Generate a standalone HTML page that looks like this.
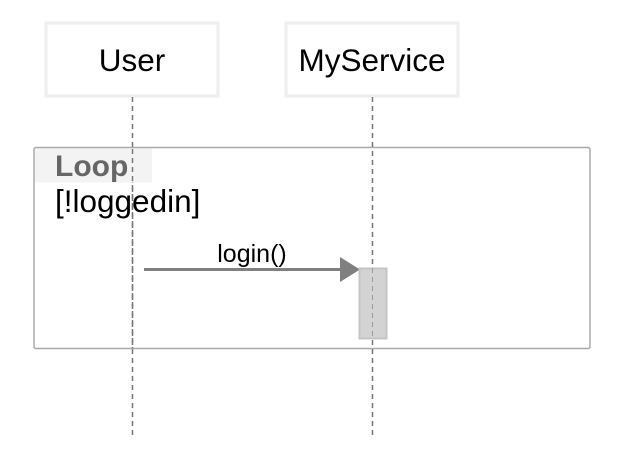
<!DOCTYPE html>
<html><head><style>body{margin:0;background:#fff}</style></head><body>
<svg width="622" height="450" xmlns="http://www.w3.org/2000/svg" font-family="Liberation Sans, Arial, sans-serif">
<rect x="46" y="23" width="172" height="73" fill="#fff" stroke="#eeeeee" stroke-width="3"/>
<text x="132" y="71" font-size="31.5" text-anchor="middle" fill="#000">User</text>
<rect x="286" y="23" width="172" height="73" fill="#fff" stroke="#eeeeee" stroke-width="3"/>
<text x="372" y="71" font-size="31.5" text-anchor="middle" fill="#000">MyService</text>
<line x1="132.5" y1="97" x2="132.5" y2="436" stroke="#777" stroke-width="1.5" stroke-dasharray="5,4"/>
<line x1="372.5" y1="97" x2="372.5" y2="436" stroke="#777" stroke-width="1.5" stroke-dasharray="5,4"/>
<rect x="34" y="147.5" width="556" height="201" rx="2" fill="none" stroke="#aaa" stroke-width="1.5"/>
<rect x="35" y="148.5" width="117" height="34" fill="#f3f3f3"/>
<text x="55" y="176" font-size="30" font-weight="bold" fill="#666">Loop</text>
<text x="55" y="212" font-size="31.5" fill="#000">[!loggedin]</text>
<line x1="132.5" y1="149" x2="132.5" y2="348" stroke="#777" stroke-width="1.5" stroke-dasharray="5,4"/>
<text x="252" y="262" font-size="25" text-anchor="middle" fill="#000">login()</text>
<line x1="144" y1="269.5" x2="342" y2="269.5" stroke="#808080" stroke-width="3"/>
<polygon points="340,257 360,269.5 340,282" fill="#808080"/>
<rect x="359.5" y="268.5" width="27" height="70" fill="#d3d3d3" stroke="#c4c4c4" stroke-width="2"/>
<line x1="372.5" y1="268" x2="372.5" y2="340" stroke="#999" stroke-width="1" stroke-dasharray="5,4"/>
</svg>
</body></html>
